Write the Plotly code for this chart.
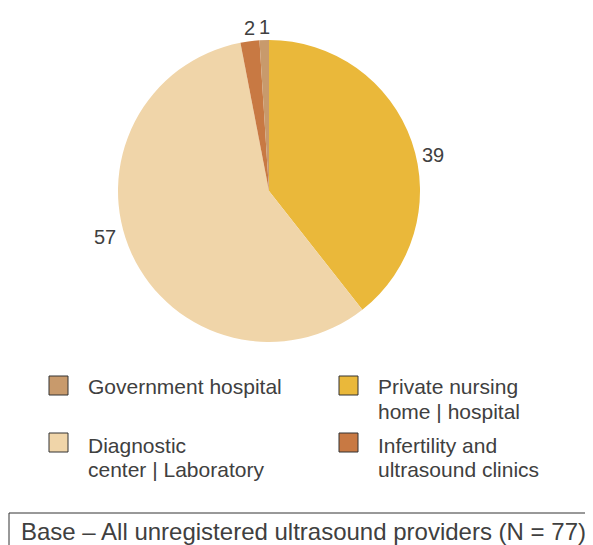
import math
import plotly.graph_objects as go

categories = ["Private nursing home | hospital", "Diagnostic center | Laboratory",
              "Infertility and ultrasound clinics", "Government hospital"]
values = [39, 57, 2, 1]
colors = ["#EAB83A", "#F0D5A9", "#C87943", "#C89A6C"]

legend_order = [3, 0, 1, 2]  # Government, Private, Diagnostic, Infertility
legend_lines = {
    0: ["Private nursing", "home | hospital"],
    1: ["Diagnostic", "center | Laboratory"],
    2: ["Infertility and", "ultrasound clinics"],
    3: ["Government hospital"],
}
base_note = "Base – All unregistered ultrasound providers (N = 77)"

# page is offset by the browser's 8px body margin
OFF = 8
W, H = 593 - OFF, 545 - OFF
FONT = "Liberation Sans, Arial, sans-serif"
TXT = "#404040"


def px(x):
    return (x - OFF) / W


def py(y):
    return 1 - (y - OFF) / H


CX, CY, R = 269, 191, 151

fig = go.Figure(go.Pie(
    labels=categories, values=values, sort=False, direction="clockwise", rotation=0,
    marker=dict(colors=colors, line=dict(width=0)),
    textinfo="none", hoverinfo="label+value", showlegend=False,
    domain=dict(x=[px(CX - R), px(CX + R)], y=[py(CY + R), py(CY - R)]),
))

annotations = []
# value labels placed just outside each slice's mid-angle
total = sum(values)
cum = 0
for v in values:
    theta = (cum + v / 2) / total * 2 * math.pi
    cum += v
    ex, ey = CX + R * math.sin(theta), CY - R * math.cos(theta)
    s = math.sin(theta)
    if s > 0.5:
        ax, ay, xa, ya = ex + 8, ey + 0, "left", "top"
    elif s < -0.5:
        ax, ay, xa, ya = ex - 14, ey - 4, "right", "bottom"
    else:
        ax, ay, xa, ya = ex, ey - 0.5, "center", "bottom"
    annotations.append(dict(xref="paper", yref="paper", x=px(ax), y=py(ay),
                            xanchor=xa, yanchor=ya, showarrow=False, text=str(v),
                            font=dict(size=20, color=TXT, family=FONT)))

shapes = []
box_pos = [(49, 376), (339, 376), (49, 433), (339, 433)]
row_line_y = {376: [386, 411], 433: [445, 469]}
for k, idx in enumerate(legend_order):
    bx, by = box_pos[k]
    shapes.append(dict(type="rect", xref="paper", yref="paper",
                       x0=px(bx), x1=px(bx + 19), y0=py(by + 19), y1=py(by),
                       fillcolor=colors[idx], line=dict(color="#333333", width=1)))
    for j, line in enumerate(legend_lines[idx]):
        annotations.append(dict(xref="paper", yref="paper", x=px(bx + 37),
                                y=py(row_line_y[by][j]),
                                xanchor="left", yanchor="middle", showarrow=False,
                                text=line, font=dict(size=21, color=TXT, family=FONT)))

shapes.append(dict(type="rect", xref="paper", yref="paper",
                   x0=px(9), x1=1.05, y0=-0.05, y1=py(513),
                   fillcolor="rgba(0,0,0,0)", line=dict(color="#333333", width=1)))
annotations.append(dict(xref="paper", yref="paper", x=px(19), y=py(531),
                        xanchor="left", yanchor="middle", showarrow=False,
                        text=base_note, font=dict(size=24, color=TXT, family=FONT)))

fig.update_layout(width=W, height=H, margin=dict(l=0, r=0, t=0, b=0),
                  paper_bgcolor="white", plot_bgcolor="white",
                  shapes=shapes, annotations=annotations)
fig.write_html("out.html")
